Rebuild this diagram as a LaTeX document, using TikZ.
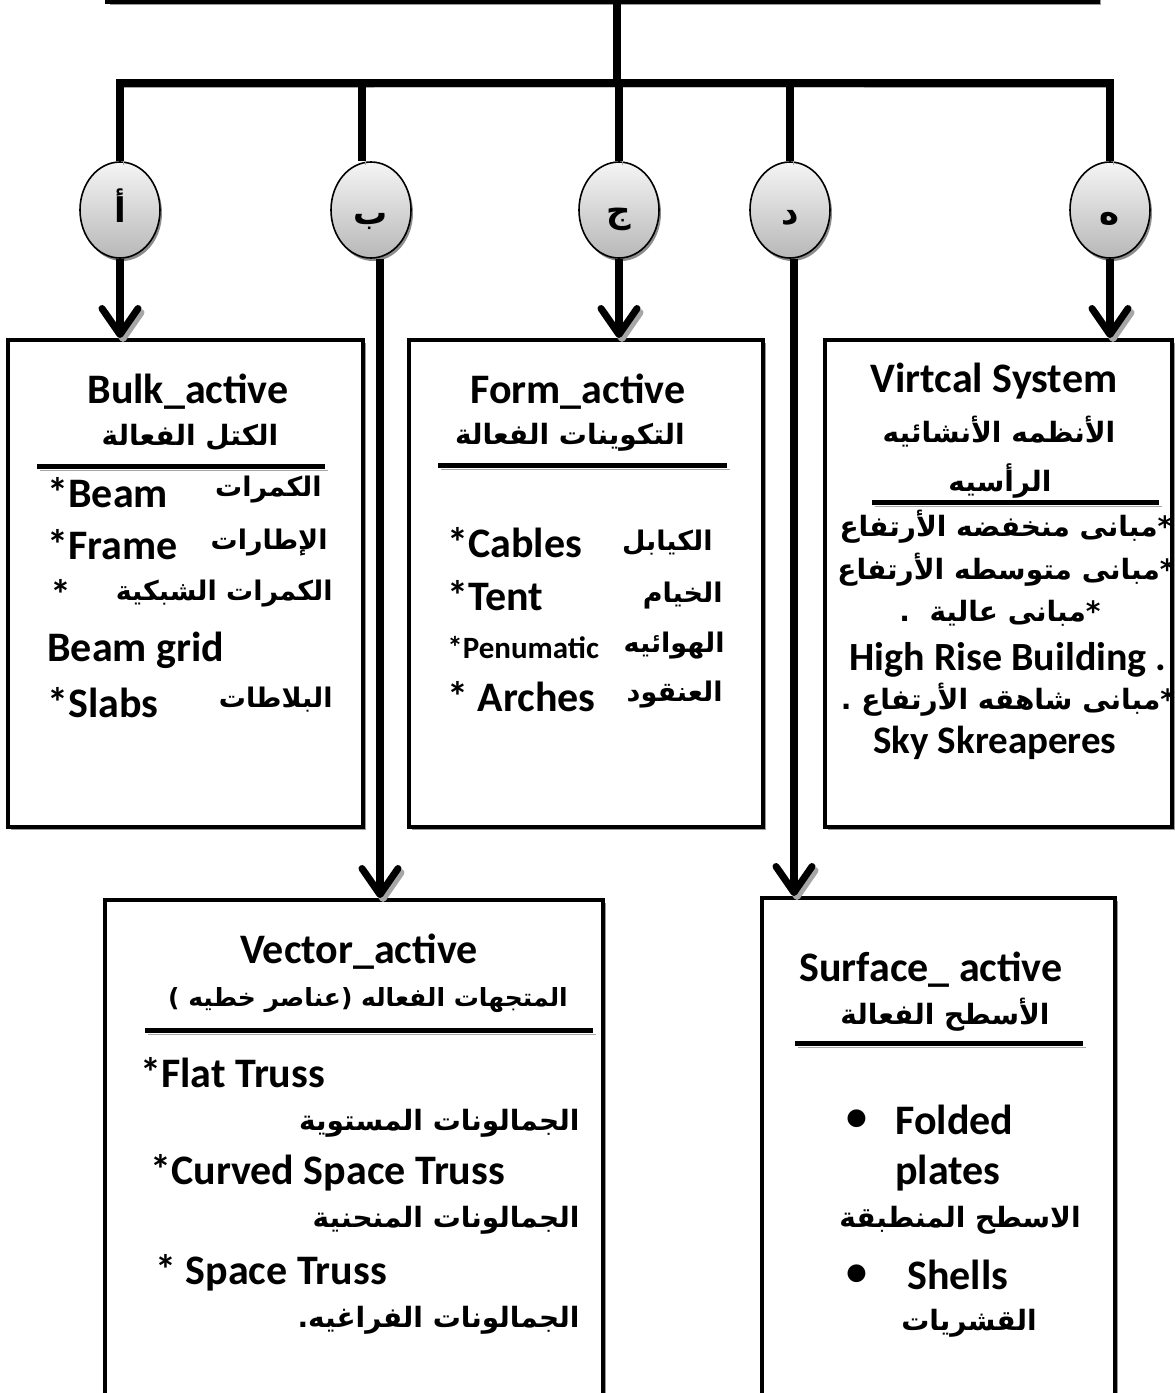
\documentclass[tikz,border=0pt]{standalone}
\usepackage{fontspec}
\setmainfont{Carlito}
\newfontfamily\arabicfont[Script=Arabic]{DejaVu Sans}
\TeXXeTstate=1
\usetikzlibrary{arrows.meta,shapes.geometric,shadows}
\newcommand{\arab}[1]{{\arabicfont\beginR #1\endR}}

\tikzset{
  shd/.style={preaction={draw=black!35, transform canvas={shift={(1.5pt,-2pt)}}}},
  bar/.style={line width=4pt, shd},
  pointer/.style={line width=4pt, shd, -{Straight Barb[length=13pt, width=18pt, line width=3.5pt, round]}},
  panel/.style={draw, line width=2pt, fill=white, inner sep=0pt,
    drop shadow={shadow xshift=1.5pt, shadow yshift=-1.5pt, fill=black!40, opacity=1}},
  tag/.style={ellipse, draw, line width=0.8pt, minimum width=40pt, minimum height=48pt, inner sep=0pt,
    text height=8pt, text depth=2pt,
    top color=black!4, bottom color=black!28,
    drop shadow={shadow xshift=1pt, shadow yshift=-1.5pt, fill=black!45, opacity=1},
    font=\arabicfont\bfseries\fontsize{17}{20}\selectfont},
  rule/.style={line width=2.5pt, shd},
  head/.style={font=\bfseries\fontsize{21}{25}\selectfont, inner sep=0pt},
  arhead/.style={font=\arabicfont\bfseries\fontsize{14}{17}\selectfont, inner sep=0pt},
  item/.style={font=\bfseries\fontsize{21}{25}\selectfont, anchor=west, inner sep=0pt},
  aritem/.style={font=\arabicfont\bfseries\fontsize{13.5}{16}\selectfont, anchor=east, inner sep=0pt},
}

\begin{document}
\begin{tikzpicture}[x=0.5pt, y=-0.5pt]
    \useasboundingbox (0,0) rectangle (1174,1393);

    % top box, cut by the page
    \node[panel, minimum width=495.5pt, minimum height=50pt] (top) at (602.5,-48) {};

    % letter tags
    \node[tag] (tagA) at (120,210) {\raisebox{-3pt}{أ}};
    \node[tag] (tagB) at (371,210) {\raisebox{-4pt}{ب}};
    \node[tag] (tagC) at (619,210) {\raisebox{-3pt}{ج}};
    \node[tag] (tagD) at (790,210) {\raisebox{-4pt}{د}};
    \node[tag] (tagE) at (1110,210) {\raisebox{-4pt}{ه}};

    % boxes
    \node[panel, minimum width=177.5pt, minimum height=243.5pt] (bulk) at (185.5,583.5) {};
    \node[panel, minimum width=177pt, minimum height=243.5pt] (form) at (586,583.5) {};
    \node[panel, minimum width=173.5pt, minimum height=243.5pt] (virt) at (998.5,583.5) {};
    \node[panel, minimum width=249pt, minimum height=250pt] (vect) at (354,1150) {};
    \node[panel, minimum width=176.5pt, minimum height=251pt] (surf) at (938.5,1149) {};

    % trunk and branches
    \coordinate (barM) at (617,83);
    \draw[bar] (top.south -| barM) -- (barM);
    \draw[bar] (tagA.north) |- (barM) -| (tagE.north);
    \draw[bar] ([xshift=-4.5pt]tagB.north) -- ([xshift=-4.5pt]tagB.north |- barM);
    \draw[bar] (tagC.north) -- (tagC.north |- barM);
    \draw[bar] (tagD.north) -- (tagD.north |- barM);

    % arrows down to the boxes
    \draw[pointer] (tagA.south) -- (tagA.south |- bulk.north);
    \draw[pointer] ([xshift=4.5pt]tagB.south) -- ([xshift=4.5pt]tagB.south |- vect.north);
    \draw[pointer] (tagC.south) -- (tagC.south |- form.north);
    \draw[pointer] ([xshift=2pt]tagD.south) -- ([xshift=2pt]tagD.south |- surf.north);
    \draw[pointer] (tagE.south) -- (tagE.south |- virt.north);

    % Bulk_active
    \node[head] (bulkT) at (188,392) {Bulk\_active};
    \node[arhead] (bulkA) at (190,437) {\arab{الكتل الفعالة}};
    \draw[rule] (37,466) -- (325,466);
    \node[item] (bulk1) at (47,493) {*Beam};
    \node[aritem] (bulk1a) at (322,490) {\arab{الكمرات}};
    \node[item] (bulk2) at (47,545) {*Frame};
    \node[aritem] (bulk2a) at (328,543) {\arab{الإطارات}};
    \node[item] (bulk3) at (50,594) {*};
    \node[aritem] (bulk3a) at (333,594) {\arab{الكمرات الشبكية}};
    \node[item] (bulk4) at (47,650) {Beam grid};
    \node[item] (bulk5) at (47,703) {*Slabs};
    \node[aritem] (bulk5a) at (333,700) {\arab{البلاطات}};

    % Form_active
    \node[head] (formT) at (578,392) {Form\_active};
    \node[arhead] (formA) at (570,437) {\arab{التكوينات الفعالة}};
    \draw[rule] (438,465) -- (727,465);
    \node[item] (form1) at (447,543) {*Cables};
    \node[aritem] (form1a) at (713,543) {\arab{الكيابل}};
    \node[item] (form2) at (447,596) {*Tent};
    \node[aritem] (form2a) at (723,596) {\arab{الخيام}};
    \node[item, font=\bfseries\fontsize{15.5}{18}\selectfont] (form3) at (447,648) {*Penumatic};
    \node[aritem] (form3a) at (725,646) {\arab{الهوائيه}};
    \node[item] (form4) at (447,697) {* Arches};
    \node[aritem] (form4a) at (723,695) {\arab{العنقود}};

    % Virtcal System
    \node[head] (virtT) at (994,381) {Virtcal System};
    \node[arhead] (virtA) at (999,432) {\arab{الأنظمه الأنشائيه}};
    \node[arhead] (virtB) at (1000,481) {\arab{الرأسيه}};
    \draw[rule] (872,502) -- (1159,502);
    \node[arhead] (virt1) at (1006,527) {\arab{مبانى منخفضه الأرتفاع}*};
    \node[arhead] (virt2) at (1006,570) {\arab{مبانى متوسطه الأرتفاع}*};
    \node[arhead] (virt3) at (1000,613) {.\ \ \arab{مبانى عالية}*};
    \node[head, font=\bfseries\fontsize{20}{24}\selectfont] (virt4) at (1008,660) {High Rise Building .};
    \node[head, font=\bfseries\fontsize{14}{17}\selectfont] (virt5) at (1008,700) {\arabicfont.\ \arab{مبانى شاهقه الأرتفاع}*};
    \node[head, font=\bfseries\fontsize{19.5}{23}\selectfont] (virt6) at (995,743) {Sky Skreaperes};

    % Vector_active
    \node[head] (vectT) at (359,952) {Vector\_active};
    \node[arhead, font=\arabicfont\bfseries\fontsize{12.5}{15}\selectfont] (vectA) at (368,1000) {)\ \arab{عناصر خطيه}(\ \arab{المتجهات الفعاله}};
    \draw[rule] (145,1030) -- (593,1030);
    \node[item] (vect1) at (140,1073) {*Flat Truss};
    \node[aritem, font=\arabicfont\bfseries\fontsize{14}{17}\selectfont] (vect1a) at (580,1123) {\arab{الجمالونات المستوية}};
    \node[item] (vect2) at (150,1173) {*Curved Space Truss};
    \node[aritem, font=\arabicfont\bfseries\fontsize{14}{17}\selectfont] (vect2a) at (580,1220) {\arab{الجمالونات المنحنية}};
    \node[item] (vect3) at (155,1273) {* Space Truss};
    \node[aritem, font=\arabicfont\bfseries\fontsize{14}{17}\selectfont] (vect3a) at (580,1320) {.\arab{الجمالونات الفراغيه}};

    % Surface_ active
    \node[head] (surfT) at (931,970) {Surface\_ active};
    \node[arhead] (surfA) at (945,1015) {\arab{الأسطح الفعالة}};
    \draw[rule] (795,1043) -- (1083,1043);
    \node[item] (surfB1) at (846,1120) {\textbullet};
    \node[item] (surf1) at (895,1120) {Folded};
    \node[item] (surf2) at (895,1173) {plates};
    \node[arhead] (surf3) at (960,1220) {\arab{الاسطح المنطبقة}};
    \node[item] (surfB2) at (846,1275) {\textbullet};
    \node[item] (surf4) at (907,1275) {Shells};
    \node[arhead] (surf5) at (969,1323) {\arab{القشريات}};
\end{tikzpicture}
\end{document}
